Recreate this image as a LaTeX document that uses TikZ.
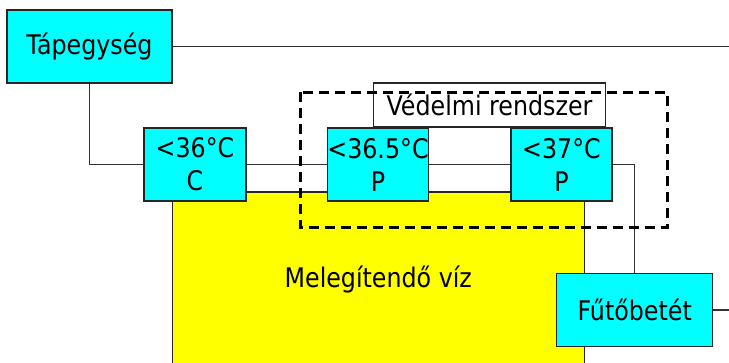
\documentclass[tikz,border=0pt]{standalone}
\usepackage{fontspec}
\setmainfont[FakeStretch=0.88]{DejaVu Sans}
\definecolor{unitcyan}{RGB}{0,255,255}
\definecolor{wateryellow}{RGB}{255,255,0}
\begin{document}
\begin{tikzpicture}[x=1pt,y=-1pt,
  txt/.style={font=\fontsize{27}{33}\selectfont, align=center, inner sep=0pt},
  box/.style={txt, draw=black!85, line width=1.3pt, fill=unitcyan},
  wire/.style={draw=black!80, line width=1.5pt},
  guard/.style={draw=black, line width=3pt, dash pattern=on 10pt off 6pt}]
\useasboundingbox (0,0) rectangle (729,362);
\clip (0,0) rectangle (729,362);

% water tank
\node[txt, draw=black!85, line width=1.3pt, fill=wateryellow,
      minimum width=412pt, minimum height=176pt] (viz) at (378.3,280) {Melegítendő víz};

% units
\node[box, minimum width=165pt, minimum height=73pt] (tap) at (89.5,46.5) {Tápegység};
\node[box, minimum width=102pt, minimum height=73pt] (c36) at (195,164.5) {<36°C\\C};
\node[box, minimum width=100pt, minimum height=73pt] (c365) at (378,164.5) {<36.5°C\\P};
\node[box, minimum width=101pt, minimum height=73pt] (c37) at (561.5,164.5) {<37°C\\P};
\node[box, minimum width=156pt, minimum height=73pt] (fut) at (634.7,310) {Fűtőbetét};

% free ends of the supply lines
\coordinate (supply) at (729,46.5);
\coordinate (ret) at (729,310);

% wiring
\draw[wire] (tap.east) -- (supply);
\draw[wire] (tap.south) |- (c36.west);
\draw[wire] (c36.east) -- (c365.west);
\draw[wire] (c365.east) -- (c37.west);
\draw[wire] (c37.east) -| (fut.north);
\draw[wire] (fut.east) -- (ret);

% protection system
\node[txt, draw=black!85, line width=1.3pt, fill=white,
      minimum width=232pt, minimum height=44pt] (ved) at (489.5,105) {Védelmi rendszer};
\draw[guard] (300,92.3) rectangle (667,227.7);
\end{tikzpicture}
\end{document}
